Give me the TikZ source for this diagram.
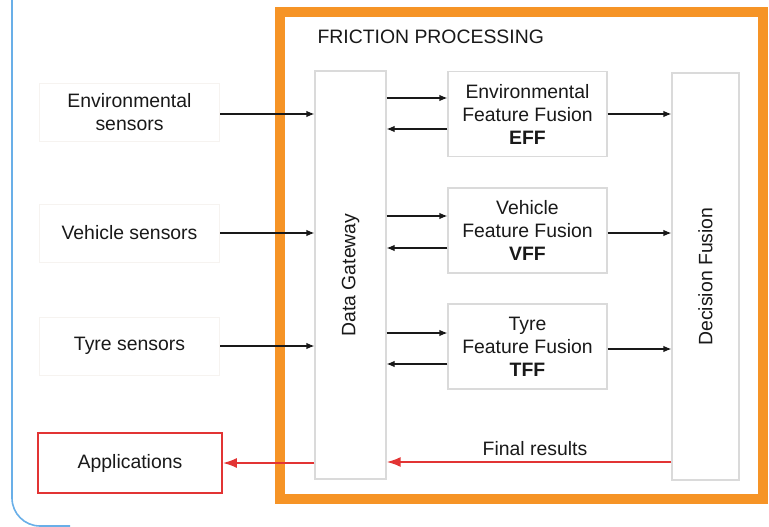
\documentclass[tikz,border=0pt]{standalone}
\usepackage{fontspec}
\setmainfont{Liberation Sans}
\usetikzlibrary{arrows.meta}
\definecolor{orangeframe}{RGB}{246,148,38}
\definecolor{blueframe}{RGB}{105,175,232}
\definecolor{redline}{RGB}{226,52,52}
\definecolor{boxgray}{RGB}{218,218,218}
\definecolor{faint}{RGB}{246,243,240}
\definecolor{txt}{RGB}{25,25,25}
\tikzset{
  txtstyle/.style={font=\fontsize{19.4}{23}\selectfont, text=txt},
  sensorbox/.style={txtstyle, draw=faint, line width=1pt, minimum width=180pt, minimum height=58pt, align=center, inner sep=0pt},
  fusionbox/.style={txtstyle, draw=boxgray, line width=1.2pt, minimum width=159pt, minimum height=85pt, align=center, inner sep=0pt},
  tallbox/.style={txtstyle, draw=boxgray, line width=1.2pt, inner sep=0pt},
  appbox/.style={txtstyle, draw=redline, line width=1.6pt, minimum width=184pt, minimum height=60pt, inner sep=0pt},
  arr/.style={draw=txt, line width=1.2pt, -{Latex[length=8pt,width=6.5pt]}},
  redarr/.style={draw=redline, line width=2pt, -{Latex[length=14pt,width=10pt]}}
}
\begin{document}
\begin{tikzpicture}[x=1pt,y=-1pt]
\useasboundingbox (0,0) rectangle (769,527);
\fill[white] (0,0) rectangle (769,527);
% outer blue frame
\draw[blueframe, line width=1.6pt, rounded corners=28pt] (12,-10) -- (12,526) -- (70,526);
% orange frame
\draw[orangeframe, line width=10pt] (280,12) rectangle (763,499);
\node[txtstyle, anchor=west] (title) at (314,37) {FRICTION PROCESSING};
% sensors
\node[sensorbox] (env) at (129.5,112.5) {Environmental\\sensors};
\node[sensorbox] (veh) at (129.5,233) {Vehicle sensors};
\node[sensorbox] (tyre) at (129.5,346) {Tyre sensors};
\node[appbox] (apps) at (130,463) {Applications};
% data gateway and decision fusion
\node[tallbox, minimum width=71pt, minimum height=408pt] (dg) at (350.5,275) {};
\node[txtstyle, rotate=90] (dgl) at (dg.center) {Data Gateway};
\node[tallbox, minimum width=67pt, minimum height=407pt] (df) at (705.5,276.5) {};
\node[txtstyle, rotate=90] (dfl) at (df.center) {Decision Fusion};
% fusion boxes
\node[fusionbox] (eff) at (527.5,114) {Environmental\\Feature Fusion\\\textbf{EFF}};
\node[fusionbox] (vff) at (527.5,230.5) {Vehicle\\Feature Fusion\\\textbf{VFF}};
\node[fusionbox] (tff) at (527.5,346.5) {Tyre\\Feature Fusion\\\textbf{TFF}};
% sensor arrows
\draw[arr] (env.east |- 0,114) -- (dg.west |- 0,114);
\draw[arr] (veh.east) -- (veh.east -| dg.west);
\draw[arr] (tyre.east) -- (tyre.east -| dg.west);
% EFF
\draw[arr] (dg.east |- 0,98) -- (eff.west |- 0,98);
\draw[arr] (eff.west |- 0,129) -- (dg.east |- 0,129);
\draw[arr] (eff.east) -- (eff.east -| df.west);
% VFF
\draw[arr] (dg.east |- 0,216) -- (vff.west |- 0,216);
\draw[arr] (vff.west |- 0,248) -- (dg.east |- 0,248);
\draw[arr] (vff.east |- 0,233) -- (df.west |- 0,233);
% TFF
\draw[arr] (dg.east |- 0,333) -- (tff.west |- 0,333);
\draw[arr] (tff.west |- 0,364) -- (dg.east |- 0,364);
\draw[arr] (tff.east |- 0,349) -- (df.west |- 0,349);
% final results
\draw[redarr] (df.west |- 0,462) -- (dg.east |- 0,462);
\node[txtstyle] (fr) at (535,449) {Final results};
\draw[redarr] (dg.west |- 0,463) -- (apps.east);
\end{tikzpicture}
\end{document}
